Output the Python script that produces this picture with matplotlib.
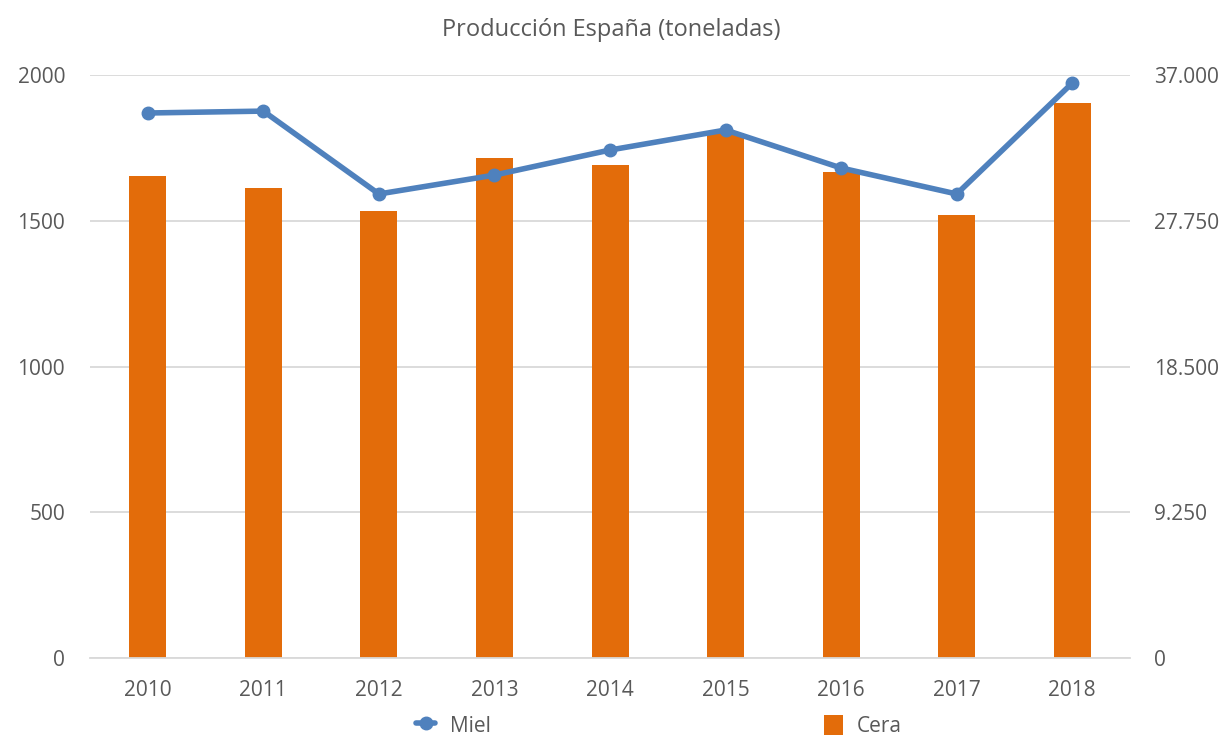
import numpy as np
import matplotlib
matplotlib.use("Agg")
import matplotlib.pyplot as plt
from matplotlib.ticker import FuncFormatter

plt.rcParams['font.family'] = ['Open Sans', 'DejaVu Sans']

years = ['2010', '2011', '2012', '2013', '2014', '2015', '2016', '2017', '2018']
cera = [1653, 1612, 1533, 1715, 1691, 1801, 1667, 1520, 1904]
miel = [34590, 34710, 29450, 30650, 32240, 33510, 31100, 29450, 36490]
right_ticks = [0, 9250, 18500, 27750, 37000]

txt = '#595959'
x = np.arange(len(years))

fig = plt.figure(figsize=(12.23, 7.37), dpi=100)
ax = fig.add_axes([0.0736, 0.1072, 0.8504, 0.7910])
ax2 = ax.twinx()

bars = ax.bar(x, cera, width=0.32, color='#E36C0A', label='Cera', zorder=2)
ax.set_ylim(0, 2000)
ax.set_yticks([0, 500, 1000, 1500, 2000])
ax.set_xlim(-0.5, len(years) - 0.5)
ax.set_xticks(x)
ax.set_xticklabels(years)
ax.grid(axis='y', color='#D9D9D9', linewidth=1.3, zorder=0)
ax.set_axisbelow(True)

line, = ax2.plot(x, miel, color='#4F81BD', linewidth=4, marker='o', markersize=9,
                 label='Miel', solid_capstyle='round')
ax2.set_ylim(0, 37000)
ax2.set_yticks(right_ticks)
ax2.yaxis.set_major_formatter(FuncFormatter(lambda v, p: '{:,.0f}'.format(v).replace(',', '.')))

for a in (ax, ax2):
    for s in a.spines.values():
        s.set_visible(False)
    a.tick_params(length=0, labelsize=15, colors=txt)
ax.spines['bottom'].set_visible(True)
ax.spines['bottom'].set_color('#D9D9D9')
ax.spines['bottom'].set_linewidth(1.3)
ax.tick_params(axis='x', pad=16)
ax.tick_params(axis='y', pad=18)
ax2.tick_params(axis='y', pad=17)

fig.suptitle('Producción España (toneladas)', x=0.5, y=0.975, fontsize=17, color=txt)

fig.legend([line, bars], ['Miel', 'Cera'], loc='lower center', bbox_to_anchor=(0.539, -0.025),
           ncol=2, frameon=False, fontsize=15, labelcolor=txt, columnspacing=16,
           handlelength=0.9, handleheight=1.1, handletextpad=0.7)

fig.savefig('out.png', dpi=100)
